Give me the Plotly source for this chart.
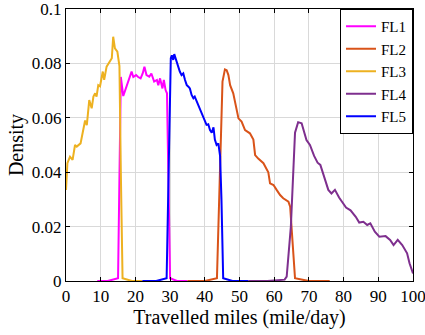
import plotly.graph_objects as go

series_names = ["FL1", "FL2", "FL3", "FL4", "FL5"]
series_colors = ["#FF00FF", "#D95319", "#EDB120", "#7E2F8E", "#0000FF"]

fl1_x = [9, 12, 15.0, 15.4, 15.8, 16.5, 17.3, 18.0, 18.9, 19.4, 20.2, 20.8, 21.5, 22.1, 22.6, 23.2,
         24.0, 24.6, 25.4, 26.2, 26.6, 27.1, 27.8, 28.2, 28.7, 29.1, 29.5, 30.0, 32, 35]
fl1_y = [0, 0, 0.001, 0.04, 0.075, 0.068, 0.071, 0.074, 0.077, 0.075, 0.0757, 0.075, 0.0745, 0.0763,
         0.0788, 0.0757, 0.0751, 0.0763, 0.0733, 0.0739, 0.072, 0.0745, 0.0708, 0.0739, 0.0702, 0.069,
         0.035, 0.001, 0, 0]

fl2_x = [35, 40, 43.5, 44.3, 45.1, 45.8, 46.3, 46.8, 47.3, 48.2, 49.2, 49.7, 50.6, 51.6, 53.0, 54.0,
         54.5, 55.4, 56.9, 57.8, 58.3, 58.8, 59.8, 60.7, 61.7, 62.6, 64.1, 64.6, 65.3, 66.0, 70, 76]
fl2_y = [0, 0, 0.001, 0.035, 0.0733, 0.0778, 0.0775, 0.0757, 0.072, 0.069, 0.0635, 0.0598, 0.0586,
         0.0555, 0.0543, 0.052, 0.0463, 0.045, 0.0433, 0.0408, 0.040, 0.0359, 0.0353, 0.0335, 0.0316,
         0.0304, 0.0292, 0.0273, 0.012, 0.001, 0, 0]

fl3_x = [0, 0.4, 1.15, 1.9, 2.6, 3.1, 4.2, 5.0, 5.5, 6.0, 6.7, 7.4, 7.9, 8.4, 8.8, 9.3, 9.8, 10.6,
         11.0, 11.7, 12.5, 13.2, 13.6, 14.1, 14.8, 15.4, 15.8, 16.3, 19, 22]
fl3_y = [0.0335, 0.0433, 0.0457, 0.0445, 0.050, 0.0494, 0.0506, 0.0555, 0.059, 0.0573, 0.0665,
         0.0635, 0.0678, 0.069, 0.0678, 0.072, 0.0716, 0.077, 0.074, 0.0788, 0.0806, 0.0819, 0.0898,
         0.0855, 0.0843, 0.079, 0.04, 0.001, 0, 0]

fl4_x = [52.5, 58, 63.0, 63.6, 64.8, 66.0, 66.9, 67.9, 69.3, 70.3, 71.5, 72.5, 73.3, 74.4, 75.6,
         76.5, 77.5, 78.7, 79.6, 80.7, 82.0, 83.5, 84.5, 85.7, 86.8, 87.7, 89.0, 90.3, 92.1, 93.4,
         94.4, 95.6, 96.9, 98.3, 99.0, 100]
fl4_y = [0, 0, 0.0005, 0.0016, 0.02, 0.0545, 0.0584, 0.058, 0.0518, 0.050, 0.046, 0.0435, 0.0427,
         0.038, 0.0335, 0.0322, 0.0335, 0.0307, 0.029, 0.027, 0.026, 0.0236, 0.0215, 0.0218, 0.0206,
         0.0212, 0.0181, 0.0163, 0.0165, 0.0151, 0.0132, 0.0151, 0.0132, 0.0102, 0.0065, 0.0028]

fl5_x = [22, 26, 29.0, 29.5, 30.2, 30.5, 30.9, 31.2, 31.9, 32.4, 32.8, 33.3, 33.8, 34.3, 34.8, 35.3,
         35.7, 36.2, 36.7, 37.1, 37.7, 38.1, 38.6, 39.1, 39.6, 40.1, 40.5, 41.0, 41.5, 42.0, 42.5,
         42.9, 43.4, 43.9, 44.4, 44.8, 45.3, 48, 52.5]
fl5_y = [0, 0, 0.001, 0.04, 0.0819, 0.083, 0.0813, 0.0834, 0.0806, 0.0782, 0.077, 0.0757, 0.0763,
         0.0739, 0.072, 0.0714, 0.0708, 0.0684, 0.0672, 0.0678, 0.0659, 0.0647, 0.0629, 0.0616,
         0.0598, 0.058, 0.0574, 0.0576, 0.0555, 0.0545, 0.0565, 0.052, 0.050, 0.0506, 0.046, 0.03,
         0.001, 0, 0]

xs = [fl1_x, fl2_x, fl3_x, fl4_x, fl5_x]
ys = [fl1_y, fl2_y, fl3_y, fl4_y, fl5_y]

x_ticks = [0, 10, 20, 30, 40, 50, 60, 70, 80, 90, 100]
y_ticks = [0, 0.02, 0.04, 0.06, 0.08, 0.1]
y_tick_labels = ["0", "0.02", "0.04", "0.06", "0.08", "0.1"]

FONT = "Liberation Serif"

fig = go.Figure()
for name, color, x, y in zip(series_names, series_colors, xs, ys):
    fig.add_trace(go.Scatter(x=x, y=y, mode="lines", name=name,
                             line=dict(color=color, width=2)))

fig.update_layout(
    width=425, height=335,
    margin=dict(l=66, r=12, t=9, b=54),
    paper_bgcolor="white", plot_bgcolor="white",
    font=dict(family=FONT, size=17, color="black"),
    showlegend=True,
    legend=dict(x=1, y=1, xanchor="right", yanchor="top",
                bgcolor="white", bordercolor="black", borderwidth=1,
                font=dict(family=FONT, size=15, color="black"),
                tracegroupgap=0, itemwidth=30),
)
fig.update_xaxes(
    range=[0, 100], tickvals=x_ticks, ticktext=[str(v) for v in x_ticks],
    showgrid=True, gridcolor="#D9D9D9", gridwidth=1,
    showline=True, linecolor="black", linewidth=1, mirror="ticks",
    ticks="inside", ticklen=4, tickcolor="black", zeroline=False,
    automargin=False, ticklabeloverflow="allow",
    title=dict(text="Travelled miles (mile/day)", font=dict(family=FONT, size=20), standoff=3),
    tickfont=dict(family=FONT, size=17),
)
fig.update_yaxes(
    range=[0, 0.1], tickvals=y_ticks, ticktext=y_tick_labels,
    showgrid=True, gridcolor="#D9D9D9", gridwidth=1,
    showline=True, linecolor="black", linewidth=1, mirror="ticks",
    ticks="inside", ticklen=4, tickcolor="black", zeroline=False,
    automargin=False, ticklabeloverflow="allow",
    title=dict(text="Density", font=dict(family=FONT, size=20), standoff=2),
    tickfont=dict(family=FONT, size=17),
)

fig.write_html("out.html", config={"displayModeBar": False},
               post_script="document.body.style.margin='0';")
